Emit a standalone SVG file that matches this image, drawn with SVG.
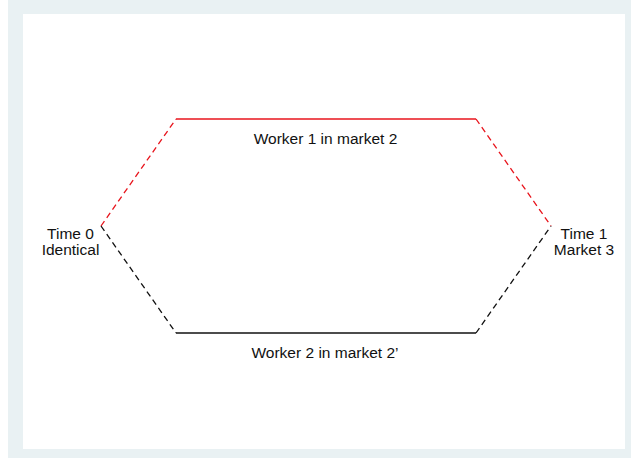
<svg xmlns="http://www.w3.org/2000/svg" width="631" height="459" viewBox="0 0 631 459">
<style>
text{font-family:"Liberation Sans",Arial,sans-serif;font-size:15.5px;fill:#111;text-anchor:middle}
.red{stroke:#e8141c;stroke-width:1.3;fill:none}
.blk{stroke:#111;stroke-width:1.3;fill:none}
.dash{stroke-dasharray:6,4}
</style>
<rect x="8" y="0" width="623" height="458" fill="#e9f1f3"/>
<rect x="23" y="14" width="602" height="435" fill="#ffffff"/>
<g id="connectors">
<path class="red dash" d="M101,226 L176,119"/>
<path class="red" d="M176,119 L476,119"/>
<path class="red dash" d="M476,119 L551,226"/>
<path class="blk dash" d="M101,226 L176,333"/>
<path class="blk" d="M176,333 L476,333"/>
<path class="blk dash" d="M476,333 L551,226"/>
</g>
<g id="time0"><text x="70.5" y="239">Time 0</text><text x="70.5" y="255">Identical</text></g>
<g id="time1"><text x="584" y="239">Time 1</text><text x="584" y="255">Market 3</text></g>
<g id="worker1"><text x="325.5" y="144">Worker 1 in market 2</text></g>
<g id="worker2"><text x="325" y="358">Worker 2 in market 2’</text></g>
</svg>
